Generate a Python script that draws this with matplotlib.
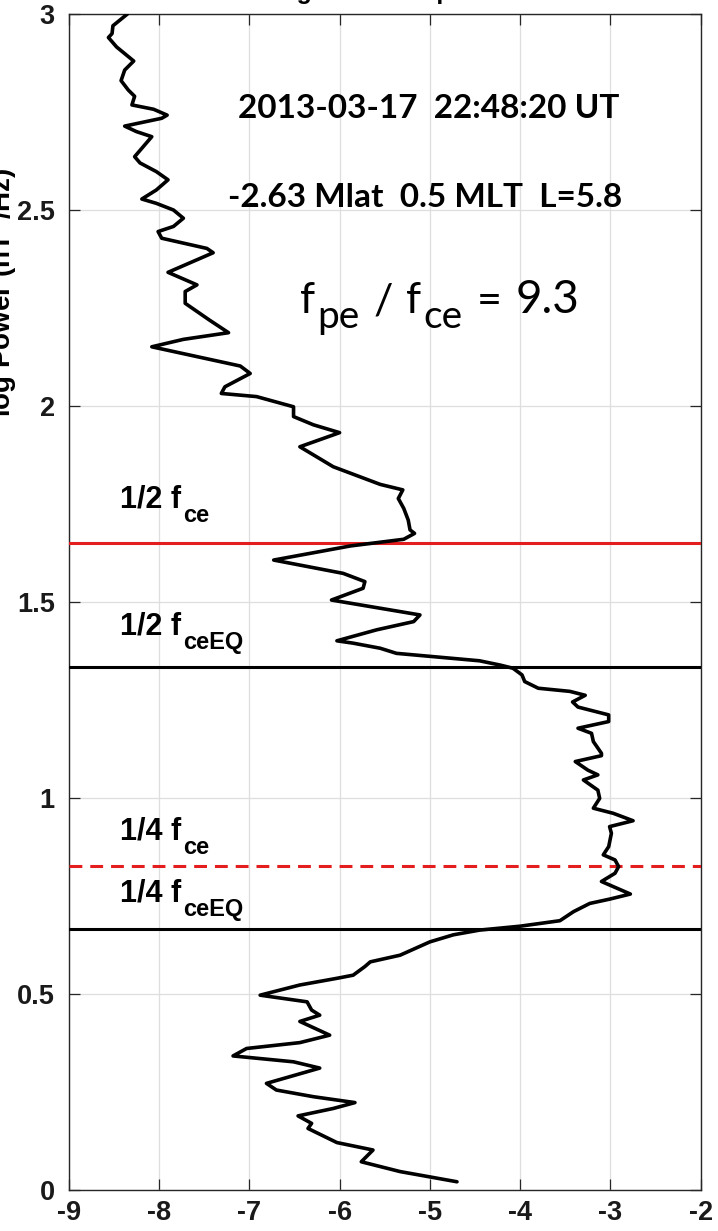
import matplotlib
matplotlib.use("Agg")
import matplotlib.pyplot as plt
import matplotlib.transforms as mtransforms

# Wave power profile: log10 power (x) against frequency in kHz (y)
log_power = [
    -8.35, -8.51, -8.52, -8.56, -8.47, -8.36, -8.28, -8.38, -8.42, -8.34,
    -8.27, -8.30, -8.06, -7.91, -7.97, -8.38, -8.25, -8.08, -8.27, -8.21,
    -8.03, -7.90, -8.03, -8.19, -8.03, -7.84, -7.73, -7.84, -8.01, -7.97,
    -7.47, -7.40, -7.90, -7.58, -7.71, -7.71, -7.44, -7.23, -7.73, -8.08,
    -7.58, -7.10, -6.99, -7.27, -7.31, -6.92, -6.51, -6.51, -6.29, -6.00,
    -6.44, -6.07, -5.55, -5.30, -5.35, -5.29, -5.24, -5.22, -5.17, -5.29,
    -5.88, -6.73, -5.96, -5.72, -5.74, -6.09, -5.55, -5.11, -5.18, -5.59,
    -6.03, -5.85, -5.55, -5.37, -4.89, -4.45, -4.22, -4.08, -3.98, -3.95,
    -3.80, -3.45, -3.28, -3.42, -3.36, -3.02, -3.02, -3.36, -3.21, -3.19,
    -3.10, -3.10, -3.39, -3.25, -3.14, -3.30, -3.14, -3.12, -3.19, -2.97,
    -2.75, -3.01, -2.99, -3.02, -3.08, -2.95, -2.91, -2.95, -3.10, -2.93,
    -2.78, -3.01, -3.23, -3.41, -3.56, -4.00, -4.45, -4.74, -5.00, -5.33,
    -5.66, -5.72, -5.85, -6.03, -6.44, -6.88, -6.36, -6.31, -6.22, -6.44,
    -6.11, -6.44, -7.03, -7.18, -6.51, -6.22, -6.81, -6.70, -6.29, -5.83,
    -6.07, -6.46, -6.31, -6.35, -6.03, -5.63, -5.76, -5.33, -4.70,
]
freq_khz = [
    3.000, 2.970, 2.950, 2.940, 2.916, 2.895, 2.880, 2.857, 2.830, 2.806,
    2.790, 2.768, 2.757, 2.742, 2.734, 2.714, 2.700, 2.687, 2.636, 2.620,
    2.598, 2.577, 2.551, 2.528, 2.517, 2.500, 2.479, 2.458, 2.445, 2.428,
    2.402, 2.391, 2.341, 2.309, 2.292, 2.262, 2.219, 2.187, 2.170, 2.151,
    2.126, 2.102, 2.083, 2.049, 2.032, 2.024, 1.998, 1.973, 1.952, 1.932,
    1.896, 1.845, 1.800, 1.786, 1.764, 1.739, 1.709, 1.684, 1.675, 1.660,
    1.643, 1.607, 1.573, 1.552, 1.535, 1.505, 1.484, 1.467, 1.450, 1.429,
    1.401, 1.395, 1.382, 1.369, 1.359, 1.350, 1.339, 1.331, 1.314, 1.297,
    1.280, 1.272, 1.262, 1.245, 1.232, 1.212, 1.195, 1.178, 1.165, 1.144,
    1.114, 1.108, 1.093, 1.071, 1.059, 1.046, 1.020, 0.999, 0.974, 0.961,
    0.942, 0.927, 0.910, 0.876, 0.855, 0.842, 0.825, 0.808, 0.787, 0.770,
    0.755, 0.742, 0.731, 0.710, 0.687, 0.673, 0.663, 0.651, 0.633, 0.599,
    0.582, 0.570, 0.548, 0.540, 0.523, 0.497, 0.480, 0.459, 0.446, 0.430,
    0.395, 0.376, 0.361, 0.342, 0.327, 0.311, 0.272, 0.255, 0.238, 0.223,
    0.208, 0.189, 0.170, 0.157, 0.121, 0.102, 0.072, 0.047, 0.021,
]

# Electron gyrofrequency, local and equatorial (kHz)
f_ce = 3.302
f_ce_eq = 2.668

x_ticks = [-9, -8, -7, -6, -5, -4, -3, -2]
x_tick_labels = ["-9", "-8", "-7", "-6", "-5", "-4", "-3", "-2"]
y_ticks = [0, 0.5, 1, 1.5, 2, 2.5, 3]
y_tick_labels = ["0", "0.5", "1", "1.5", "2", "2.5", "3"]

event_time = "2013-03-17  22:48:20 UT"
event_location = "-2.63 Mlat  0.5 MLT  L=5.8"
density_ratio = 9.3
y_label = "log Power (nT$^\\mathbf{2}$/Hz)"
title = "Averaged Wave Spectrum"

RED = "#e41e1e"
AX_COLOR = "#262626"
TICK_FONT = "Liberation Sans"
NOTE_FONT = "Lato"

W, H = 718, 1231
fig = plt.figure(figsize=(W / 100, H / 100), dpi=100)
left, right, top, bottom = 68.7, 700.8, 14.0, 1190.0
ax = fig.add_axes([left / W, 1 - bottom / H, (right - left) / W, (bottom - top) / H])

ax.plot(log_power, freq_khz, color="black", lw=2.6, solid_joinstyle="round",
        solid_capstyle="round", zorder=4)

ax.axhline(f_ce / 2, color=RED, lw=2.2, zorder=3)
ax.axhline(f_ce_eq / 2, color="black", lw=2.2, zorder=3)
ax.axhline(f_ce / 4, color=RED, lw=2.2, dashes=(4.2, 2.6), zorder=3)
ax.axhline(f_ce_eq / 4, color="black", lw=2.2, zorder=3)

ax.set_xlim(-9, -2)
ax.set_ylim(0, 3)
ax.set_xticks(x_ticks)
ax.set_xticklabels(x_tick_labels)
ax.set_yticks(y_ticks)
ax.set_yticklabels(y_tick_labels)
ax.grid(True, color="#dedede", lw=0.9)
ax.set_axisbelow(True)
for sp in ax.spines.values():
    sp.set_color(AX_COLOR)
    sp.set_linewidth(1.0)
ax.tick_params(axis="both", direction="in", length=8, width=0.9, color=AX_COLOR,
               top=True, right=True, labelsize=19.5)
ax.tick_params(axis="x", pad=7)
ax.tick_params(axis="y", pad=10)
for lab in ax.get_xticklabels() + ax.get_yticklabels():
    lab.set_fontfamily(TICK_FONT)
    lab.set_fontweight("bold")
    lab.set_color("#1a1a1a")

renderer = fig.canvas.get_renderer()


def put_runs(x, y, runs, family, weight):
    """Write a sequence of text pieces left to right, each with its own size and
    vertical offset (points), starting at data position (x, y)."""
    dx = 0.0
    for txt, size, dy, gap in runs:
        dx += gap
        tr = mtransforms.offset_copy(ax.transData, fig=fig, x=dx, y=dy, units="points")
        t = ax.text(x, y, txt, fontsize=size, family=family, weight=weight,
                    transform=tr, ha="left", va="baseline", color="black", zorder=5)
        dx += t.get_window_extent(renderer).width * 72 / fig.dpi


# Frequency markers
def marker_label(y, frac, sub):
    put_runs(-8.43, y, [(frac + " f", 22, 0, 0), (sub, 17, -10, 1.5)],
             TICK_FONT, "bold")


marker_label(1.740, "1/2", "ce")
marker_label(1.416, "1/2", "ceEQ")
marker_label(0.893, "1/4", "ce")
marker_label(0.735, "1/4", "ceEQ")

# Event annotations
ax.text(-7.125, 2.735, event_time, fontsize=24, family=NOTE_FONT, weight="bold",
        ha="left", va="baseline", zorder=5)
ax.text(-7.24, 2.508, event_location, fontsize=24, family=NOTE_FONT, weight="bold",
        ha="left", va="baseline", zorder=5)
put_runs(-6.44, 2.237,
         [("f", 31, 0, 0), ("pe", 28, -10.8, 1.5), ("/", 31, 0, 10),
          ("f", 31, 0, 10), ("ce", 28, -10.8, 1.5), ("=", 31, 0, 10),
          (f"{density_ratio}", 33, 0, 10)],
         NOTE_FONT, "normal")

fig.text(1.5 / W, 1 - 292 / H, y_label, rotation=90, ha="center", va="center",
         fontsize=20, family=TICK_FONT, weight="bold")
fig.text(382 / W, 1 + 1 / H, title, ha="center", va="baseline",
         fontsize=18, family=TICK_FONT, weight="bold")

fig.savefig("out.png", dpi=100)
